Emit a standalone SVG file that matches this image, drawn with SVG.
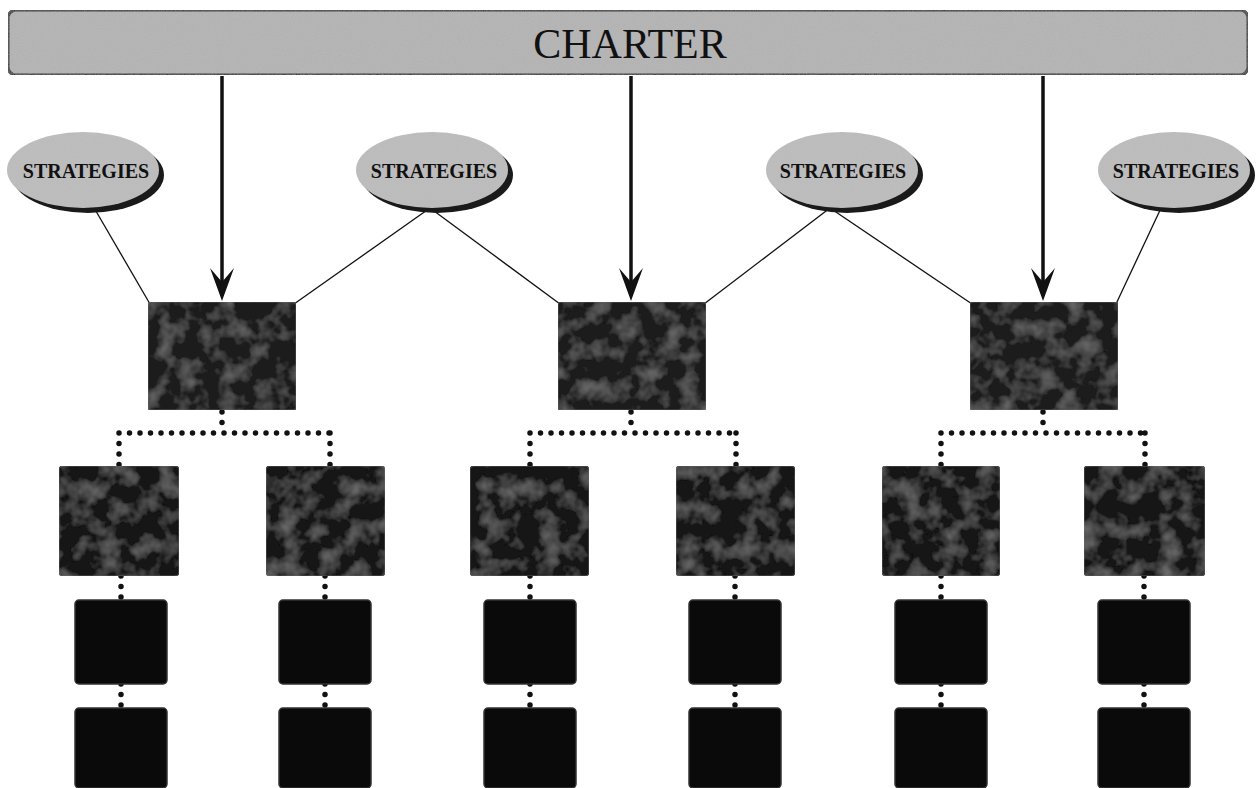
<svg xmlns="http://www.w3.org/2000/svg" width="1259" height="788" viewBox="0 0 1259 788">
<style>
.bar{fill:#b0b0b0;stroke:#222;stroke-width:3}
.ell{fill:#bababa}
.shadow{fill:#1a1a1a}
.lbl{font-family:"Liberation Serif","Times New Roman",serif;fill:#111;text-anchor:middle}
.box2{fill:#1a1a1a;stroke:#444;stroke-width:1.5}
.box3{fill:#181818;stroke:#444;stroke-width:1.5}
.box4{fill:#0a0a0a;stroke:#333;stroke-width:1.5}
.thin{stroke:#111;stroke-width:1.3;fill:none}
.arrow{stroke:#111;stroke-width:3.5;fill:none}
.dots{stroke:#111;stroke-width:5.5;stroke-linecap:round;stroke-dasharray:0 10.5;fill:none}
</style>
<defs>
<filter id="grain" x="0" y="0" width="100%" height="100%">
<feTurbulence type="fractalNoise" baseFrequency="0.9" numOctaves="2" seed="3" result="n"/>
<feColorMatrix in="n" type="matrix" values="0 0 0 0 0.6  0 0 0 0 0.6  0 0 0 0 0.6  0 0 0 0.3 0" result="g"/>
<feComposite in="g" in2="SourceGraphic" operator="in" result="gc"/>
<feMerge><feMergeNode in="SourceGraphic"/><feMergeNode in="gc"/></feMerge>
</filter>
<filter id="grainDark" x="0" y="0" width="100%" height="100%">
<feTurbulence type="fractalNoise" baseFrequency="0.05" numOctaves="3" seed="7" result="n"/>
<feColorMatrix in="n" type="matrix" values="0 0 0 0 0.4  0 0 0 0 0.4  0 0 0 0 0.4  0 0 0.7 0 -0.3" result="g"/>
<feComposite in="g" in2="SourceGraphic" operator="in" result="gc"/>
<feMerge><feMergeNode in="SourceGraphic"/><feMergeNode in="gc"/></feMerge>
</filter>
</defs>

<g id="charter">
<rect class="bar" x="8" y="10" width="1240" height="65" rx="8" filter="url(#grain)"/>
<text class="lbl" x="630" y="58" font-size="42">CHARTER</text>
</g>

<g id="connectors">
<line class="thin" x1="93" y1="206" x2="150" y2="304"/>
<line class="thin" x1="430" y1="208" x2="294" y2="304"/>
<line class="thin" x1="430" y1="208" x2="560" y2="304"/>
<line class="thin" x1="830" y1="208" x2="704" y2="304"/>
<line class="thin" x1="830" y1="208" x2="972" y2="304"/>
<line class="thin" x1="1162" y1="206" x2="1116" y2="304"/>
<g>
<line class="arrow" x1="222" y1="76" x2="222" y2="296"/>
<path d="M210,268 L222,301 L234,268 L222,282 Z" fill="#111"/>
<line class="arrow" x1="631" y1="76" x2="631" y2="296"/>
<path d="M619,268 L631,301 L643,268 L631,282 Z" fill="#111"/>
<line class="arrow" x1="1043" y1="76" x2="1043" y2="296"/>
<path d="M1031,268 L1043,301 L1055,268 L1043,282 Z" fill="#111"/>
</g>
<path class="dots" d="M222,412 V433 M119,433 H330 M119,433 V466 M330,433 V466"/>
<path class="dots" d="M631,412 V433 M530,433 H736 M530,433 V466 M736,433 V466"/>
<path class="dots" d="M1043,412 V433 M941,433 H1145 M941,433 V466 M1145,433 V466"/>
<path class="dots" d="M121,576 V600 M121,684 V708 M325,576 V600 M325,684 V708"/>
<path class="dots" d="M530,576 V600 M530,684 V708 M735,576 V600 M735,684 V708"/>
<path class="dots" d="M941,576 V600 M941,684 V708 M1144,576 V600 M1144,684 V708"/>
</g>

<g id="strategies-1">
<ellipse class="shadow" cx="88" cy="175" rx="76" ry="38"/>
<ellipse class="ell" cx="83" cy="170" rx="76" ry="38" filter="url(#grain)"/>
<text class="lbl" x="86" y="178" font-size="20" font-weight="bold">STRATEGIES</text>
</g>
<g id="strategies-2">
<ellipse class="shadow" cx="437" cy="175" rx="76" ry="38"/>
<ellipse class="ell" cx="432" cy="170" rx="76" ry="38" filter="url(#grain)"/>
<text class="lbl" x="434" y="178" font-size="20" font-weight="bold">STRATEGIES</text>
</g>
<g id="strategies-3">
<ellipse class="shadow" cx="847" cy="175" rx="76" ry="38"/>
<ellipse class="ell" cx="842" cy="170" rx="76" ry="38" filter="url(#grain)"/>
<text class="lbl" x="843" y="178" font-size="20" font-weight="bold">STRATEGIES</text>
</g>
<g id="strategies-4">
<ellipse class="shadow" cx="1179" cy="175" rx="76" ry="38"/>
<ellipse class="ell" cx="1174" cy="170" rx="76" ry="38" filter="url(#grain)"/>
<text class="lbl" x="1176" y="178" font-size="20" font-weight="bold">STRATEGIES</text>
</g>

<g id="box-a"><rect class="box2" x="148" y="302" width="148" height="108" rx="3" filter="url(#grainDark)"/></g>
<g id="box-b"><rect class="box2" x="558" y="302" width="148" height="108" rx="3" filter="url(#grainDark)"/></g>
<g id="box-c"><rect class="box2" x="970" y="302" width="148" height="108" rx="3" filter="url(#grainDark)"/></g>

<g id="box-a1"><rect class="box3" x="59" y="466" width="120" height="110" rx="4" filter="url(#grainDark)"/></g>
<g id="box-a2"><rect class="box3" x="266" y="466" width="119" height="110" rx="4" filter="url(#grainDark)"/></g>
<g id="box-b1"><rect class="box3" x="470" y="466" width="119" height="110" rx="4" filter="url(#grainDark)"/></g>
<g id="box-b2"><rect class="box3" x="676" y="466" width="119" height="110" rx="4" filter="url(#grainDark)"/></g>
<g id="box-c1"><rect class="box3" x="882" y="466" width="118" height="110" rx="4" filter="url(#grainDark)"/></g>
<g id="box-c2"><rect class="box3" x="1084" y="466" width="121" height="110" rx="4" filter="url(#grainDark)"/></g>

<g id="box-a1-1"><rect class="box4" x="75" y="600" width="92" height="84" rx="4"/></g>
<g id="box-a2-1"><rect class="box4" x="279" y="600" width="92" height="84" rx="4"/></g>
<g id="box-b1-1"><rect class="box4" x="484" y="600" width="92" height="84" rx="4"/></g>
<g id="box-b2-1"><rect class="box4" x="689" y="600" width="92" height="84" rx="4"/></g>
<g id="box-c1-1"><rect class="box4" x="895" y="600" width="92" height="84" rx="4"/></g>
<g id="box-c2-1"><rect class="box4" x="1098" y="600" width="92" height="84" rx="4"/></g>

<g id="box-a1-2"><rect class="box4" x="75" y="708" width="92" height="80" rx="4"/></g>
<g id="box-a2-2"><rect class="box4" x="279" y="708" width="92" height="80" rx="4"/></g>
<g id="box-b1-2"><rect class="box4" x="484" y="708" width="92" height="80" rx="4"/></g>
<g id="box-b2-2"><rect class="box4" x="689" y="708" width="92" height="80" rx="4"/></g>
<g id="box-c1-2"><rect class="box4" x="895" y="708" width="92" height="80" rx="4"/></g>
<g id="box-c2-2"><rect class="box4" x="1098" y="708" width="92" height="80" rx="4"/></g>
</svg>
